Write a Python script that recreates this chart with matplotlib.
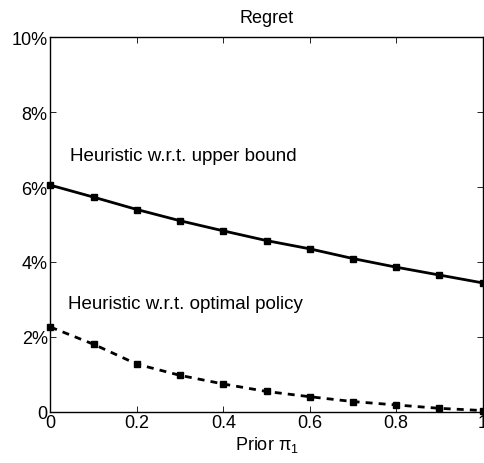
import matplotlib
matplotlib.use('Agg')
import matplotlib.pyplot as plt
from matplotlib.ticker import FuncFormatter

plt.rcParams['font.family'] = ['Liberation Sans', 'DejaVu Sans']
plt.rcParams['mathtext.fontset'] = 'custom'
plt.rcParams['mathtext.rm'] = 'Liberation Sans'
plt.rcParams['mathtext.it'] = 'Liberation Sans'

# ── Data ──────────────────────────────────────────────────
prior = [0.0, 0.1, 0.2, 0.3, 0.4, 0.5, 0.6, 0.7, 0.8, 0.9, 1.0]
regret_upper = [6.05, 5.73, 5.40, 5.10, 4.83, 4.57, 4.35, 4.09, 3.86, 3.65, 3.44]
regret_optimal = [2.26, 1.80, 1.27, 0.97, 0.74, 0.54, 0.40, 0.27, 0.18, 0.09, 0.03]
x_ticks = [0, 0.2, 0.4, 0.6, 0.8, 1]
y_ticks = [0, 2, 4, 6, 8, 10]

FS = 13

# ── Plot ──────────────────────────────────────────────────
fig = plt.figure(figsize=(4.85, 4.64), dpi=100)
ax = fig.add_axes([0.104, 0.1106, 0.891, 0.8069])

ax.plot(prior, regret_upper, color='black', lw=2.0, marker='s', ms=5,
        clip_on=False, zorder=3)
ax.plot(prior, regret_optimal, color='black', lw=2.0, ls=(0, (2.5, 2.2)),
        marker='s', ms=5, clip_on=False, zorder=3)

ax.text(0.045, 6.83, 'Heuristic w.r.t. upper bound', fontsize=13.5,
        va='center', ha='left')
ax.text(0.04, 2.88, 'Heuristic w.r.t. optimal policy', fontsize=13.5,
        va='center', ha='left')

ax.set_xlim(0, 1)
ax.set_ylim(0, 10)
ax.set_xticks(x_ticks)
ax.set_xticklabels(['0', '0.2', '0.4', '0.6', '0.8', '1'])
ax.set_yticks(y_ticks)
ax.yaxis.set_major_formatter(FuncFormatter(lambda v, p: '0' if v == 0 else f'{v:g}%'))
ax.tick_params(direction='in', top=True, right=True, labelsize=FS,
               length=4, width=0.6, pad=2)
for s in ax.spines.values():
    s.set_linewidth(1.0)

ax.set_title('Regret', fontsize=FS, pad=11)
ax.set_xlabel('Prior $\\pi_1$', fontsize=FS, labelpad=2)

fig.savefig('out.png', dpi=100)
